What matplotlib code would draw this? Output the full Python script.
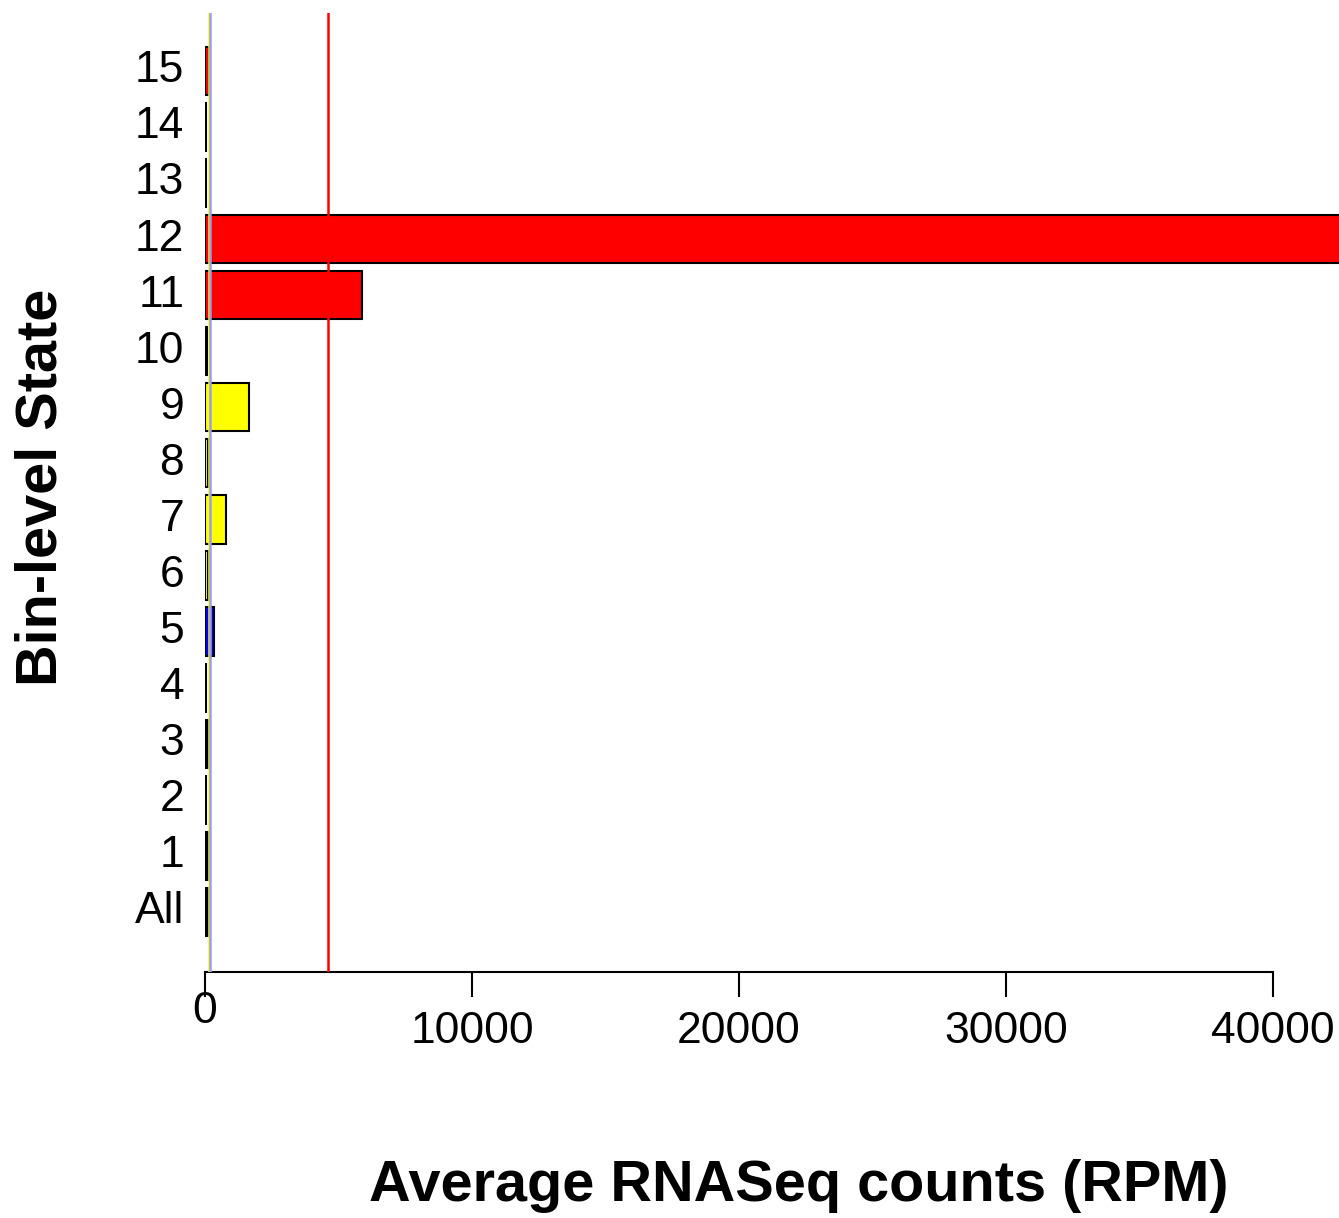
import matplotlib
matplotlib.use("Agg")
import matplotlib.pyplot as plt

plt.rcParams["font.family"] = ["Liberation Sans", "DejaVu Sans"]

# average RPM per bin-level state
states = ["All", "1", "2", "3", "4", "5", "6", "7", "8", "9",
          "10", "11", "12", "13", "14", "15"]
rpm = [130, 120, 50, 120, 50, 320, 130, 800, 120, 1650,
       60, 5880, 48000, 50, 50, 150]
bar_colors = ["black", "black", "black", "black", "black", "blue",
              "yellow", "yellow", "yellow", "yellow",
              "grey", "red", "red", "black", "black", "red"]

# reference lines
ref_values = [150, 190, 4600]
ref_colors = ["yellow", "#9a9cf0", "red"]

W, H = 1339, 1218
fig = plt.figure(figsize=(W / 100, H / 100), dpi=100)
ax = fig.add_axes([205 / W, 1 - 972 / H, (W - 205) / W, (972 - 13) / H])

pos = list(range(len(states)))
ax.barh(pos, rpm, height=0.86, color=bar_colors, edgecolor="black",
        linewidth=1.5, zorder=2)

for v, c in zip(ref_values, ref_colors):
    ax.axvline(v, color=c, linewidth=1.8, zorder=3)

ax.set_xlim(0, (W - 205) / 26.7 * 1000)
ax.set_ylim(-1.07, 16.03)

ax.set_yticks(pos)
ax.set_yticklabels(states)
ax.tick_params(axis="y", length=0, labelsize=32, pad=15)
for lab in ax.get_yticklabels():
    lab.set_va("center")
ax.set_xticks([0, 10000, 20000, 30000, 40000])
ax.set_xticklabels(["0", "10000", "20000", "30000", "40000"])
ax.tick_params(axis="x", length=18, width=1.5, labelsize=32, pad=-4)
# R staggers the labels so the wide ones drop below the "0"
for lab in ax.get_xticklabels()[1:]:
    lab.set_y(-0.02)
    lab.set_va("top")

for s in ["top", "right", "left"]:
    ax.spines[s].set_visible(False)
ax.spines["bottom"].set_bounds(0, 40000)
ax.spines["bottom"].set_linewidth(1.5)
ax.spines["bottom"].set_zorder(1)

fig.text(799 / W, 1 - 1186 / H, "Average RNASeq counts (RPM)",
         ha="center", va="center", fontsize=41.5, fontweight="bold")
fig.text(42 / W, 1 - 487 / H, "Bin-level State", rotation=90,
         ha="center", va="center", fontsize=41.5, fontweight="bold")

fig.savefig("out.png", dpi=100)
